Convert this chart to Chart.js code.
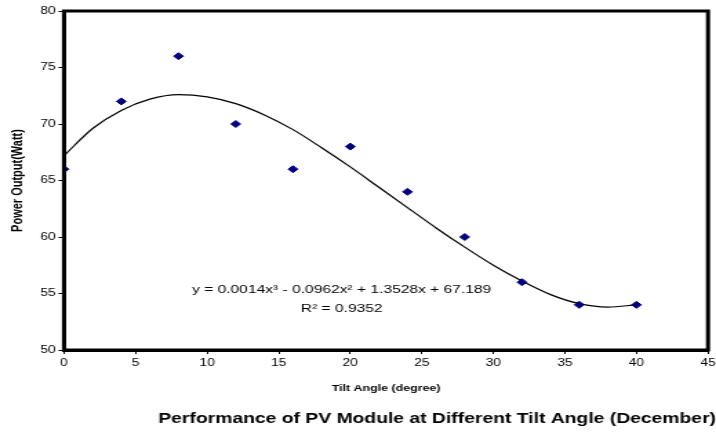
<!DOCTYPE html>
<html>
<head>
<meta charset="utf-8">
<script src="https://cdn.jsdelivr.net/npm/chart.js@4"></script>
<style>
  html, body { margin: 0; padding: 0; background: #fff; overflow: hidden; }
  #wrap { width: 716px; height: 434px; }
  /* the original picture is stretched sideways, so draw narrow and widen */
  #pvChart { transform: scaleX(1.3796); transform-origin: 0 0; }
</style>
</head>
<body>
<div id="wrap"><canvas id="pvChart" width="519" height="434"></canvas></div>
<script>
// measured points
const tiltAngles = [0, 4, 8, 12, 16, 20, 24, 28, 32, 36, 40];
const powerOutput = [66, 72, 76, 70, 66, 68, 64, 60, 56, 54, 54];

// trendline
const trendX = [0, 2, 4, 6, 8, 10, 12, 14, 16, 18, 20, 22, 24, 26, 28, 30, 32, 34, 36, 38, 40];
const trendY = [67.2, 69.6, 71.2, 72.2, 72.6, 72.4, 71.8, 70.8, 69.5, 67.9, 66.2, 64.4, 62.6, 60.8, 59.1, 57.5, 56.1, 54.9, 54.1, 53.8, 54.0];

const equationText = 'y = 0.0014x\u00B3 - 0.0962x\u00B2 + 1.3528x + 67.189';
const rSquaredText = 'R\u00B2 = 0.9352';

const font = 'Arial, "Liberation Sans", sans-serif';

const frameAndLabels = {
    id: 'frameAndLabels',
    afterDatasetsDraw(chart) {
        const { ctx, chartArea, scales } = chart;
        ctx.save();
        ctx.strokeStyle = '#000';
        ctx.lineWidth = 3;
        ctx.strokeRect(chartArea.left, chartArea.top, chartArea.right - chartArea.left, chartArea.bottom - chartArea.top);

        ctx.fillStyle = '#000';
        ctx.font = '11.3px ' + font;
        ctx.textAlign = 'center';
        ctx.textBaseline = 'middle';
        const cx = scales.x.getPixelForValue(19.4);
        ctx.fillText(equationText, cx, scales.y.getPixelForValue(55.3));
        ctx.fillText(rSquaredText, cx, scales.y.getPixelForValue(53.6));
        ctx.restore();
    }
};

new Chart(document.getElementById('pvChart'), {
    type: 'scatter',
    data: {
        datasets: [{
            label: 'Power Output',
            data: tiltAngles.map((x, i) => ({ x: x, y: powerOutput[i] })),
            backgroundColor: '#000080',
            borderColor: '#000080',
            pointStyle: 'rectRot',
            pointRadius: 3.5,
            order: 1
        }, {
            label: 'Poly. trend',
            data: trendX.map((x, i) => ({ x: x, y: trendY[i] })),
            showLine: true,
            borderColor: '#000',
            borderWidth: 1.2,
            pointRadius: 0,
            cubicInterpolationMode: 'monotone',
            fill: false,
            order: 2
        }]
    },
    options: {
        responsive: false,
        animation: false,
        layout: { padding: { top: 11, right: 0, left: 0, bottom: 0 } },
        plugins: {
            legend: { display: false },
            tooltip: { enabled: false },
            title: {
                display: true,
                position: 'bottom',
                align: 'end',
                text: 'Performance of PV Module at Different Tilt Angle (December)',
                color: '#000',
                font: { family: font, size: 14, weight: 'bold' },
                padding: { top: 10, bottom: 6 }
            }
        },
        scales: {
            x: {
                type: 'linear',
                min: 0,
                max: 45,
                ticks: { stepSize: 5, color: '#000', font: { family: font, size: 10 }, padding: 3, maxRotation: 0 },
                grid: { drawOnChartArea: false, drawTicks: true, tickLength: 4, color: '#000' },
                border: { display: true, color: '#000', width: 3 },
                title: {
                    display: true,
                    text: 'Tilt Angle (degree)',
                    color: '#000',
                    font: { family: font, size: 9, weight: 'bold' },
                    padding: { top: 4, bottom: 7 }
                },
                afterFit(scale) {
                    scale.height = 51.2;
                    scale.paddingRight = 5.8;
                }
            },
            y: {
                min: 50,
                max: 80,
                ticks: { stepSize: 5, color: '#000', font: { family: font, size: 10 }, padding: 2 },
                grid: { drawOnChartArea: false, drawTicks: true, tickLength: 4, color: '#000' },
                border: { display: true, color: '#000', width: 3 },
                title: {
                    display: true,
                    text: 'Power Output(Watt)',
                    color: '#000',
                    font: { family: font, size: 11, weight: 'bold' },
                    padding: { top: 6, bottom: 2 }
                },
                afterFit(scale) { scale.width = 46.4; }
            }
        }
    },
    plugins: [frameAndLabels]
});
</script>
</body>
</html>
